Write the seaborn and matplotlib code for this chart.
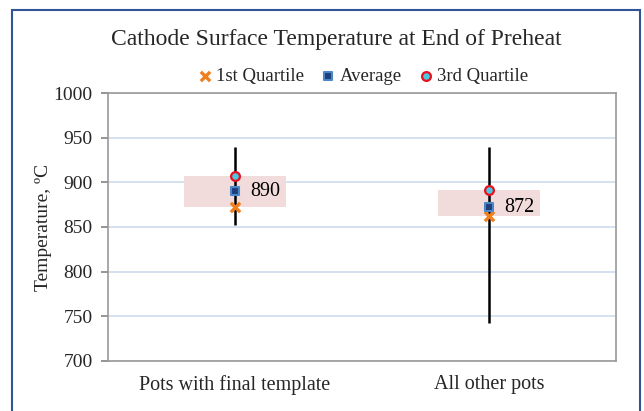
import matplotlib
matplotlib.use("Agg")
import matplotlib.pyplot as plt
import seaborn as sns
import pandas as pd
from matplotlib.patches import Rectangle

categories = ["Pots with final template", "All other pots"]
q1 = [872, 862]
average = [890, 872]
q3 = [907, 891]
lows = [852, 743]
highs = [940, 940]
labels = ["890", "872"]

sns.set_theme(style="white")
plt.rcParams['font.family'] = ['Liberation Serif', 'DejaVu Serif']

df = pd.DataFrame({"cat": categories, "pos": range(len(categories)),
                   "q1": q1, "avg": average, "q3": q3, "lo": lows, "hi": highs})

fig = plt.figure(figsize=(6.44, 4.11), dpi=100)
ax = fig.add_axes([0.1677, 0.1217, 0.7888, 0.652])

ax.bar(df["pos"], df["q3"] - df["q1"], bottom=df["q1"], width=0.4,
       color="#F2DCDB", edgecolor="none", zorder=2)
ax.vlines(df["pos"], df["lo"], df["hi"], color="black", lw=1.8, zorder=3)

sns.scatterplot(data=df, x="pos", y="q1", ax=ax, marker="x", s=45,
                color="#F07F1E", linewidth=2.4,
                label="1st Quartile", zorder=4)
sns.scatterplot(data=df, x="pos", y="avg", ax=ax, marker="s", s=40,
                color="#1F3F7A", edgecolor="#4A86C8", linewidth=1.5,
                label="Average", zorder=4)
sns.scatterplot(data=df, x="pos", y="q3", ax=ax, marker="o", s=40,
                color="#4BC8E0", edgecolor="#E8101E", linewidth=1.6,
                label="3rd Quartile", zorder=4)

for p, v, t in zip(df["pos"], df["avg"], labels):
    ax.text(p + 0.06, v, t, va="center", ha="left", fontsize=14.5, color="black", zorder=5)

ax.set_xlim(-0.5, 1.5)
ax.set_ylim(700, 1000)
ax.set_yticks(range(700, 1001, 50))
ax.set_xticks(df["pos"])
ax.set_xticklabels(categories, fontsize=14.5)
ax.tick_params(axis="y", labelsize=14, length=5, color="#888888", direction="out", left=True, pad=6)
ax.tick_params(axis="x", length=0, pad=10)
ax.yaxis.grid(True, color="#C9D9EE", lw=1.1)
ax.set_axisbelow(True)
for s in ax.spines.values():
    s.set_color("#999999")
    s.set_linewidth(1.2)
ax.set_xlabel("")
ax.set_ylabel("Temperature, \u00baC", fontsize=14, labelpad=1)

ax.legend(loc="lower center", bbox_to_anchor=(0.5, 1.0), ncol=3, frameon=False,
          fontsize=13.5, handletextpad=0.1, columnspacing=0.8, borderaxespad=0.05,
          handlelength=1.0)

fig.text(336/644, 0.905, "Cathode Surface Temperature at End of Preheat",
         ha="center", va="center", fontsize=17)

fig.patches.append(Rectangle((12/644, -0.05), 628/644, 1.05 - 10/411,
                             transform=fig.transFigure, fill=False,
                             edgecolor="#2F5597", lw=1.5))

fig.savefig("out.png", dpi=100)
